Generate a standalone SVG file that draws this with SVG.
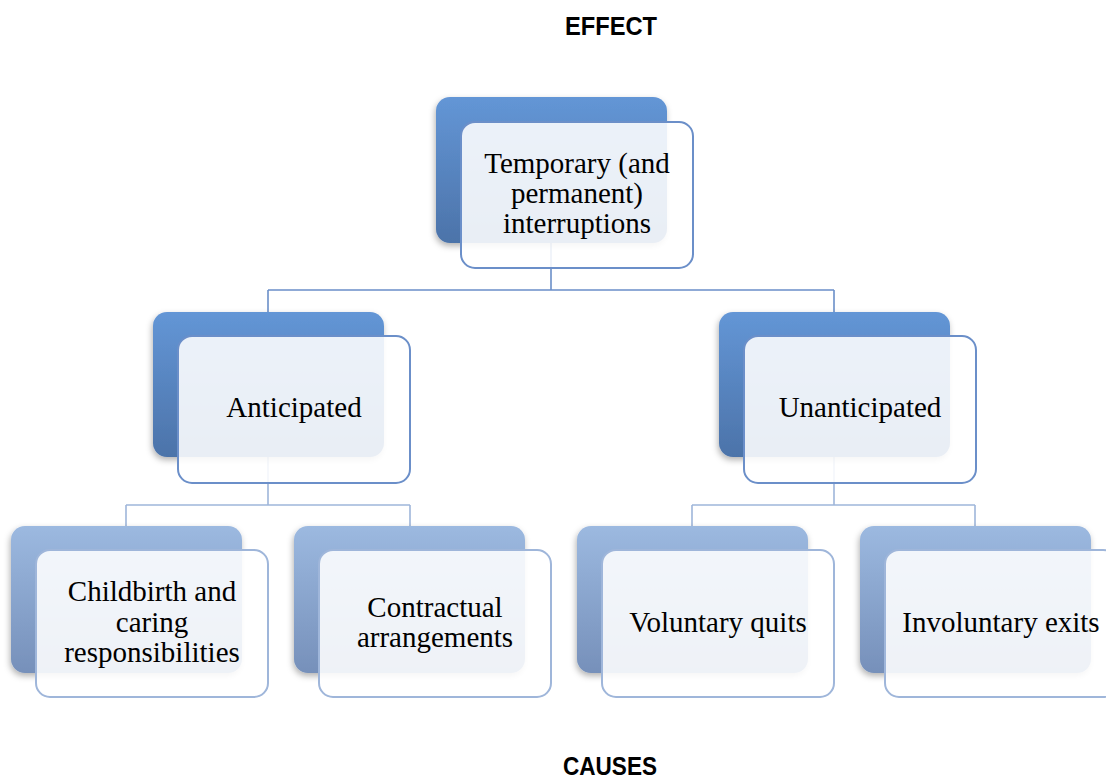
<svg xmlns="http://www.w3.org/2000/svg" width="1106" height="780" viewBox="0 0 1106 780">
<style>
.bg{fill:#ffffff}
.back1{fill:url(#g1);filter:url(#sh)}
.back2{fill:url(#g2);filter:url(#sh)}
.front1{fill:#ffffff;fill-opacity:0.88;stroke:#6B8FC9;stroke-width:2}
.front2{fill:#ffffff;fill-opacity:0.88;stroke:#9FB6DA;stroke-width:2}
.lbl{font-family:"Liberation Serif","Times New Roman",serif;font-size:29px;fill:#000;text-anchor:middle}
.hdr{font-family:"Liberation Sans",Arial,sans-serif;font-weight:bold;font-size:26px;fill:#000;text-anchor:middle}
.c1{fill:none;stroke:#6B8FC9;stroke-width:1.6}
.c2{fill:none;stroke:#9FB6DA;stroke-width:1.6}
</style>
<defs>
<linearGradient id="g1" x1="0" y1="0" x2="0" y2="1">
<stop offset="0" stop-color="#6396D6"/>
<stop offset="1" stop-color="#4C73A9"/>
</linearGradient>
<linearGradient id="g2" x1="0" y1="0" x2="0" y2="1">
<stop offset="0" stop-color="#9CB9E0"/>
<stop offset="1" stop-color="#7690BA"/>
</linearGradient>
<filter id="sh" x="-10%" y="-10%" width="120%" height="130%">
<feDropShadow dx="-1" dy="3" stdDeviation="3" flood-color="#000" flood-opacity="0.3"/>
</filter>
</defs>
<rect class="bg" x="0" y="0" width="1106" height="780"/>
<text class="hdr" x="611" y="35" textLength="92" lengthAdjust="spacingAndGlyphs">EFFECT</text>
<text class="hdr" x="610" y="775" textLength="94" lengthAdjust="spacingAndGlyphs">CAUSES</text>
<g id="connectors">
<path class="c1" d="M551 243 V290 M268 290 H834 M268 290 V312 M834 290 V312"/>
<path class="c2" d="M268 457 V505 M126 505 H410 M126 505 V526 M410 505 V526"/>
<path class="c2" d="M834 457 V505 M692 505 H975 M692 505 V526 M975 505 V526"/>
</g>
<g id="node-top">
<rect class="back1" x="436" y="97" width="231" height="146" rx="14"/>
<rect class="front1" x="461" y="122" width="232" height="146" rx="14"/>
<text class="lbl" x="577" y="173">Temporary (and</text>
<text class="lbl" x="577" y="203">permanent)</text>
<text class="lbl" x="577" y="233">interruptions</text>
</g>
<g id="node-anticipated">
<rect class="back1" x="153" y="312" width="231" height="145" rx="14"/>
<rect class="front1" x="178" y="336" width="232" height="147" rx="14"/>
<text class="lbl" x="294" y="417">Anticipated</text>
</g>
<g id="node-unanticipated">
<rect class="back1" x="719" y="312" width="231" height="145" rx="14"/>
<rect class="front1" x="744" y="336" width="232" height="147" rx="14"/>
<text class="lbl" x="860" y="417">Unanticipated</text>
</g>
<g id="node-childbirth">
<rect class="back2" x="11" y="526" width="231" height="147" rx="14"/>
<rect class="front2" x="36" y="550" width="232" height="147" rx="14"/>
<text class="lbl" x="152" y="601">Childbirth and</text>
<text class="lbl" x="152" y="632">caring</text>
<text class="lbl" x="152" y="662">responsibilities</text>
</g>
<g id="node-contractual">
<rect class="back2" x="294" y="526" width="231" height="147" rx="14"/>
<rect class="front2" x="319" y="550" width="232" height="147" rx="14"/>
<text class="lbl" x="435" y="617">Contractual</text>
<text class="lbl" x="435" y="647">arrangements</text>
</g>
<g id="node-voluntary">
<rect class="back2" x="577" y="526" width="231" height="147" rx="14"/>
<rect class="front2" x="602" y="550" width="232" height="147" rx="14"/>
<text class="lbl" x="718" y="632">Voluntary quits</text>
</g>
<g id="node-involuntary">
<rect class="back2" x="860" y="526" width="231" height="147" rx="14"/>
<rect class="front2" x="885" y="550" width="232" height="147" rx="14"/>
<text class="lbl" x="1001" y="632">Involuntary exits</text>
</g>
</svg>
